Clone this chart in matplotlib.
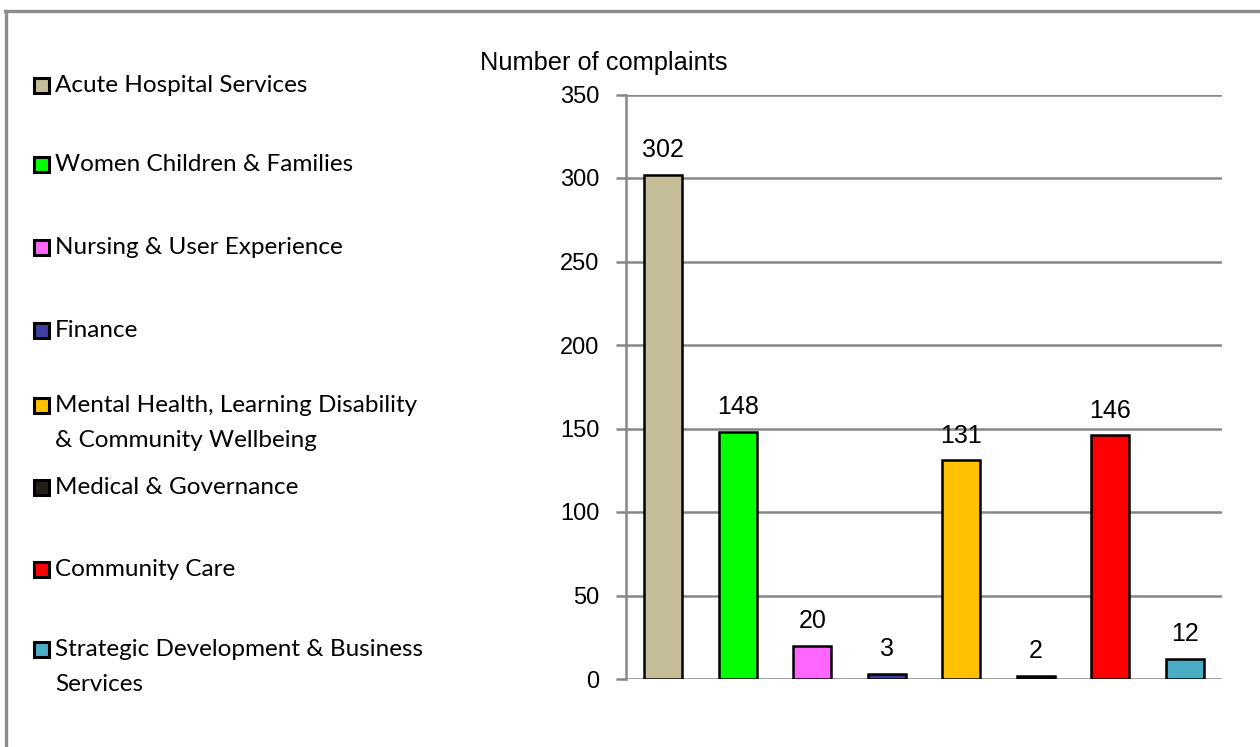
import matplotlib.pyplot as plt
from matplotlib.lines import Line2D
from matplotlib.patches import Rectangle

categories = ['Acute Hospital Services', 'Women Children & Families',
              'Nursing & User Experience', 'Finance',
              'Mental Health, Learning Disability\n& Community Wellbeing',
              'Medical & Governance', 'Community Care',
              'Strategic Development & Business\nServices']
complaints = [302, 148, 20, 3, 131, 2, 146, 12]
colors = ['#C4BD97', '#00FF00', '#FF66FF', '#3F3F9F',
          '#FFC000', '#231F16', '#FF0000', '#4BACC6']
yticks = [0, 50, 100, 150, 200, 250, 300, 350]

# legend row positions (pixels from top, first line centre)
legend_y = [85, 164, 247, 330, 405, 487, 569, 649]

W, H = 1260, 747
fig = plt.figure(figsize=(W / 100, H / 100), dpi=100)
ax = fig.add_axes([626 / W, 1 - 679 / H, 596 / W, (679 - 94.5) / H])

grid = '#868686'
x = range(len(complaints))
ax.bar(x, complaints, width=0.51, color=colors, edgecolor='black', linewidth=1.8, zorder=3)
for i, v in enumerate(complaints):
    ax.annotate(str(v), (i, v), xytext=(0, 9), textcoords='offset points',
                ha='center', va='bottom', fontsize=18, family='Liberation Sans')

ax.set_xlim(-0.5, 7.5)
ax.set_ylim(0, 350)
ax.set_yticks(yticks)
ax.set_xticks([])
ax.yaxis.grid(True, color=grid, linewidth=1.8, zorder=0)
for s in ['top', 'right', 'bottom']:
    ax.spines[s].set_visible(False)
ax.spines['left'].set_color(grid)
ax.spines['left'].set_linewidth(1.8)
ax.tick_params(axis='y', length=7, width=1.8, color=grid, pad=12, labelsize=17)
for t in ax.get_yticklabels():
    t.set_family('Liberation Sans')

fig.text(480 / W, 1 - 63 / H, 'Number of complaints', ha='left', va='center',
         fontsize=18.3, family='Liberation Sans')

# legend
for lab, col, yy in zip(categories, colors, legend_y):
    fig.patches.append(Rectangle((34 / W, 1 - (yy + 8) / H), 15 / W, 15 / H,
                                 facecolor=col, edgecolor='black', linewidth=2.2,
                                 transform=fig.transFigure))
    fig.text(55 / W, 1 - (yy - 10) / H, lab, ha='left', va='top', fontsize=17.5,
             family='Lato', linespacing=1.8)

# outer frame (top and left edges visible)
fig.add_artist(Line2D([5 / W, 1], [1 - 11 / H, 1 - 11 / H], color='#8C8C8C', linewidth=2.4,
                      transform=fig.transFigure))
fig.add_artist(Line2D([6 / W, 6 / W], [0, 1 - 11 / H], color='#8C8C8C', linewidth=2.4,
                      transform=fig.transFigure))

fig.savefig('out.png', dpi=100)
